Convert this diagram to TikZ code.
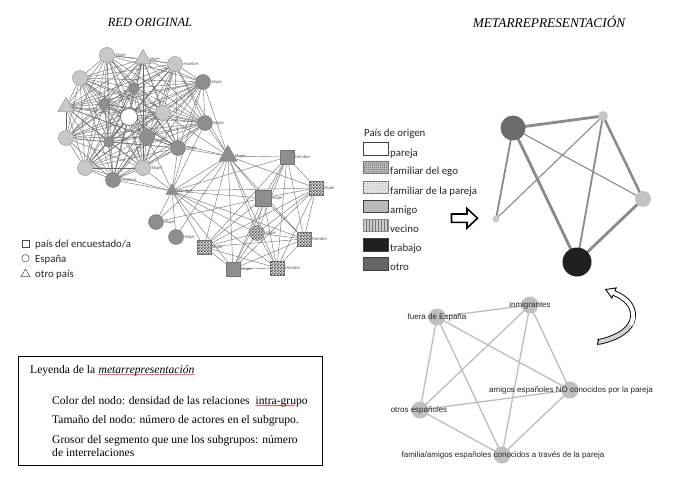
\documentclass[tikz,border=0pt]{standalone}
\usepackage{fontspec}
\setmainfont{Liberation Serif}
\newfontfamily\arialf{Liberation Sans}
\newfontfamily\calf{Carlito}
\usetikzlibrary{shapes.geometric,patterns,decorations.pathmorphing,backgrounds}
\pgfdeclarepatternformonly{finecheck}{\pgfpointorigin}{\pgfqpoint{3.2pt}{3.2pt}}{\pgfqpoint{3.2pt}{3.2pt}}{%
  \pgfpathrectangle{\pgfpointorigin}{\pgfqpoint{1.6pt}{1.6pt}}%
  \pgfpathrectangle{\pgfqpoint{1.6pt}{1.6pt}}{\pgfqpoint{1.6pt}{1.6pt}}%
  \pgfusepath{fill}}
\pgfdeclarepatternformonly{tinycheck}{\pgfpointorigin}{\pgfqpoint{2pt}{2pt}}{\pgfqpoint{2pt}{2pt}}{%
  \pgfpathrectangle{\pgfpointorigin}{\pgfqpoint{1pt}{1pt}}%
  \pgfpathrectangle{\pgfqpoint{1pt}{1pt}}{\pgfqpoint{1pt}{1pt}}%
  \pgfusepath{fill}}
\definecolor{ngray}{HTML}{8E8E8E}
\definecolor{nlight}{HTML}{C8C8C8}
\definecolor{medge}{HTML}{8A8A8A}
\definecolor{bedge}{HTML}{BDBDBD}
\definecolor{bnode}{HTML}{BFBFBF}
\tikzset{
  e1/.style={draw=black!58, line width=0.4pt},
  e2/.style={draw=black!52, line width=0.45pt},
  nl/.style={font=\arialf\fontsize{4.2}{4.7}\selectfont, text=black!65, inner sep=0.6pt},
  lc/.style={circle, minimum size=15pt, inner sep=0pt, fill=nlight, draw=black!45, line width=0.4pt},
  gc/.style={circle, minimum size=15pt, inner sep=0pt, fill=ngray, draw=black!55, line width=0.4pt},
  sgc/.style={gc, minimum size=11pt},
  ego/.style={circle, minimum size=17pt, inner sep=0pt, fill=white, draw=black!70, line width=0.5pt},
  ltri/.style={regular polygon, regular polygon sides=3, minimum size=19pt, inner sep=0pt, fill=nlight, draw=black!45, line width=0.4pt},
  gtri/.style={regular polygon, regular polygon sides=3, minimum size=19pt, inner sep=0pt, fill=ngray, draw=black!55, line width=0.4pt},
  gsq/.style={rectangle, minimum size=14pt, inner sep=0pt, fill=ngray, draw=black!55, line width=0.4pt},
  csq/.style={rectangle, minimum size=14pt, inner sep=0pt, preaction={fill=gray!20}, pattern=finecheck, pattern color=black!75, draw=black!55, line width=0.4pt},
  ccirc/.style={circle, minimum size=15pt, inner sep=0pt, preaction={fill=gray!30}, pattern=finecheck, pattern color=black!70, draw=black!55, line width=0.4pt},
  mnode/.style={circle, inner sep=0pt},
  medg/.style={draw=medge},
  bnd/.style={circle, minimum size=17pt, inner sep=0pt, fill=bnode},
  bedg/.style={draw=bedge, line width=1.3pt},
  blab/.style={font=\arialf\fontsize{8}{9}\selectfont, text=black!85, inner sep=0pt},
  lt/.style={font=\fontsize{11.6}{13}\selectfont, inner sep=0pt, anchor=base west},
  ttl/.style={font=\itshape\fontsize{12.5}{14}\selectfont, inner sep=0pt},
  leg/.style={font=\calf\fontsize{10.8}{12}\selectfont, text=black!85, inner sep=0pt, anchor=base west},
  lbox/.style={draw=black!75, line width=0.9pt},
  squig/.style={draw=red, line width=0.3pt, decorate, decoration={snake, amplitude=0.5pt, segment length=2pt}},
}
\begin{document}
\begin{tikzpicture}[x=1pt,y=-1pt]
\useasboundingbox (0,0) rectangle (685,482);

% ---------------- titles ----------------
\node[ttl] (t1) at (150,22) {RED ORIGINAL};
\node[ttl, font=\itshape\fontsize{13.3}{15}\selectfont] (t2) at (549,22) {METARREPRESENTACIÓN};

% ---------------- original network ----------------
\node[lc, label={[nl]right:Mujer}] (A) at (107,55) {};
\node[ltri, label={[nl]right:Mujer}] (B) at (143,59) {};
\node[lc, label={[nl]right:Hombre}] (C) at (175,64) {};
\node[gc, label={[nl]right:Mujer}] (D) at (203,82) {};
\node[lc] (E) at (80,78) {};
\node[ltri] (F) at (66,107) {};
\node[sgc] (G) at (134,88) {};
\node[sgc] (H) at (104,104) {};
\node[ego] (I) at (129,117) {};
\node[lc] (J) at (163,113) {};
\node[gc, label={[nl]right:Mujer}] (K) at (205,123) {};
\node[lc] (L) at (66,138) {};
\node[sgc] (M) at (109,142) {};
\node[gc] (N) at (147,137) {};
\node[gc, label={[nl]right:Mujer}] (O) at (178,148) {};
\node[lc, label={[nl]right:Mujer}] (P) at (85,168) {};
\node[lc, label={[nl]right:Mujer}] (Q) at (143,168) {};
\node[gc, label={[nl]right:Hombre}] (R) at (113,180) {};
\node[gtri, minimum size=21pt, label={[nl]right:Mujer}] (S) at (228,156) {};
\node[gtri, minimum size=14pt, label={[nl]right:Hombre}] (T) at (172,191) {};
\node[gc, label={[nl]right:Mujer}] (U) at (156,222) {};
\node[gc, label={[nl]right:Mujer}] (V) at (176,237) {};
\node[gsq, label={[nl]right:Hombre}] (W) at (287,157) {};
\node[csq, label={[nl]right:Mujer}] (X) at (316,188) {};
\node[gsq, minimum size=16pt, label={[nl]right:Mujer}] (Y) at (263,198) {};
\node[ccirc, label={[nl]right:Mujer}] (Z) at (257,233) {};
\node[csq, label={[nl]right:Hombre}] (Aa) at (304,239) {};
\node[csq, label={[nl]right:Mujer}] (Ab) at (204,247) {};
\node[gsq, label={[nl]right:Mujer}] (Ac) at (233,269) {};
\node[csq, label={[nl]right:Hombre}] (Ad) at (277,268) {};

\begin{scope}[on background layer]
  \fill[white] (0,0) rectangle (685,482);
  \foreach \u [count=\i] in {A,B,C,D,E,F,G,H,I,J,K,L,M,N,O,P,Q,R}{
    \foreach \v [count=\j] in {A,B,C,D,E,F,G,H,I,J,K,L,M,N,O,P,Q,R}{
      \ifnum\j>\i \draw[e1] (\u) -- (\v); \fi
    }
  }
  \foreach \u [count=\i] in {S,T,W,X,Y,Z,Aa,Ab,Ac,Ad}{
    \foreach \v [count=\j] in {S,T,W,X,Y,Z,Aa,Ab,Ac,Ad}{
      \ifnum\j>\i \draw[e2] (\u) -- (\v); \fi
    }
  }
  \foreach \v in {D,K,O,N,J,C} \draw[e2] (S) -- (\v);
  \foreach \v in {R,Q,O,N,K,D,P} \draw[e2] (T) -- (\v);
  \foreach \v in {T,S,Y} \draw[e2] (U) -- (\v);
  \foreach \v in {T,S} \draw[e2] (V) -- (\v);
\end{scope}

% ---------------- left legend ----------------
\node[rectangle, draw=black!70, line width=0.5pt, minimum size=7.5pt, inner sep=0pt] (sqs) at (25.5,243.5) {};
\node[circle, draw=black!70, line width=0.5pt, minimum size=7.5pt, inner sep=0pt] (cis) at (25.5,258.3) {};
\node[regular polygon, regular polygon sides=3, draw=black!70, line width=0.5pt, minimum size=10pt, inner sep=0pt] (trs) at (25.5,274) {};
\node[leg] (lg1) at (35,247) {país del encuestado/a};
\node[leg] (lg2) at (35,262) {España};
\node[leg] (lg3) at (35,277.5) {otro país};

% ---------------- middle legend ----------------
\node[leg] (po) at (364,136.5) {País de origen};
\draw[lbox, fill=white] (363.5,142) rectangle (388.5,155);
\fill[gray!45] (363.5,161.5) rectangle (388.5,173.5);
\fill[pattern=tinycheck, pattern color=black!65] (363.5,161.5) rectangle (388.5,173.5);
\draw[lbox, draw=black!55, line width=0.6pt] (363.5,161.5) rectangle (388.5,173.5);
\fill[gray!18] (363.5,181) rectangle (388.5,193);
\fill[pattern=crosshatch dots, pattern color=black!35] (363.5,181) rectangle (388.5,193);
\draw[lbox, draw=black!50, line width=0.6pt] (363.5,181) rectangle (388.5,193);
\draw[lbox, fill=gray!55] (363.5,200) rectangle (388.5,212);
\fill[gray!40] (363.5,219) rectangle (388.5,231);
\fill[pattern=vertical lines, pattern color=black!55] (363.5,219) rectangle (388.5,231);
\draw[lbox, draw=black!45, line width=0.5pt] (363.5,219) rectangle (388.5,231);
\draw[lbox, fill=black!88] (363.5,238.5) rectangle (388.5,251);
\draw[lbox, fill=black!60] (363.5,257.5) rectangle (388.5,270);
\node[leg] (p1) at (390,156) {pareja};
\node[leg] (p2) at (390,174.5) {familiar del ego};
\node[leg] (p3) at (390,194) {familiar de la pareja};
\node[leg] (p4) at (390,213) {amigo};
\node[leg] (p5) at (390,232) {vecino};
\node[leg] (p6) at (390,251.5) {trabajo};
\node[leg] (p7) at (390,270.5) {otro};

% ---------------- block arrow ----------------
\draw[line width=1.6pt, fill=white, line join=miter]
  (451.5,214) -- (467,214) -- (467,208.5) -- (477.5,218.2) -- (467,228) -- (467,222.3) -- (451.5,222.3) -- cycle;

% ---------------- metarepresentation ----------------
\node[mnode, minimum size=25pt, fill=black!58] (mD) at (513,128) {};
\node[mnode, minimum size=10pt, fill=black!22] (mT) at (603,116) {};
\node[mnode, minimum size=16pt, fill=black!24] (mR) at (643,199) {};
\node[mnode, minimum size=7pt, fill=black!20] (mL) at (496,219) {};
\node[mnode, minimum size=29pt, fill=black!88] (mB) at (577,262) {};
\begin{scope}[on background layer]
  \draw[medg, line width=2.8pt] (mD.center) -- (mT.center);
  \draw[medg, line width=2.8pt] (mD.center) -- (mB.center);
  \draw[medg, line width=1.8pt] (mD.center) -- (mL.center);
  \draw[medg, line width=1.1pt] (mD.center) -- (mR.center);
  \draw[medg, line width=1.1pt] (mT.center) -- (mL.center);
  \draw[medg, line width=1.8pt] (mT.center) -- (mB.center);
  \draw[medg, line width=2.5pt] (mT.center) -- (mR.center);
  \draw[medg, line width=2.8pt] (mR.center) -- (mB.center);
\end{scope}

% ---------------- curved arrow ----------------
\draw[line width=0.9pt, double=white, double distance=4pt]
  (614,293) .. controls (626,298) and (634,306) .. (633,317);
\draw[line width=0.9pt, double=gray!35, double distance=4pt]
  (633,317) .. controls (632,330) and (615,339) .. (598,342);
\draw[white, line width=4pt] (633,317) .. controls (632.7,321) and (632,323) .. (631,325);
\draw[line width=0.9pt] (598.6,339.3) -- (597.4,344.8);
\fill[white] (611.9,298.1) -- (605.7,289.5) -- (616.1,287.9) -- cycle;
\draw[line width=0.9pt, line join=miter]
  (613.2,294.8) -- (611.9,298.1) -- (605.7,289.5) -- (616.1,287.9) -- (614.8,291.2);

% ---------------- bottom network ----------------
\node[bnd] (fe) at (437,317) {};
\node[bnd] (in) at (530,305) {};
\node[bnd] (an) at (570,390) {};
\node[bnd] (oe) at (420,410) {};
\node[bnd] (fa) at (502,455) {};
\begin{scope}[on background layer]
  \foreach \u/\v in {fe/in, fe/oe, fe/fa, fe/an, in/oe, in/fa, in/an, oe/an, oe/fa, an/fa}
    \draw[bedg] (\u.center) -- (\v.center);
\end{scope}
\node[blab] (lfe) at (fe.center) {fuera de España};
\node[blab] (lin) at (in.center) {inmigrantes};
\node[blab] (lan) at (571,390) {amigos españoles NO conocidos por la pareja};
\node[blab] (loe) at (419,410) {otros españoles};
\node[blab] (lfa) at (503,455) {familia/amigos españoles conocidos a través de la pareja};

% ---------------- legend box ----------------
\draw[line width=0.8pt] (18,356) rectangle (322,465);
\node[lt] (ly1) at (30,373) {Leyenda de la};
\node[lt, font=\itshape\fontsize{11.6}{13}\selectfont] (ly2) at ([xshift=3pt]ly1.base east) {metarrepresentación};
\draw[squig] ([yshift=-1.6pt]ly2.base west) -- ([yshift=-1.6pt]ly2.base east);
\node[lt] (ly3) at (52,404) {Color del nodo: densidad de las relaciones};
\node[lt] (ly4) at ([xshift=5.5pt]ly3.base east) {intra-grupo};
\draw[squig] ([yshift=-1.6pt]ly4.base west) -- ([yshift=-1.6pt,xshift=-13pt]ly4.base east);
\node[lt] (ly5) at (52,423.5) {Tamaño del nodo: número de actores en el subgrupo.};
\node[lt] (ly6) at (52,443) {Grosor del segmento que une los subgrupos: número};
\node[lt] (ly7) at (52,456) {de interrelaciones};
\end{tikzpicture}
\end{document}
